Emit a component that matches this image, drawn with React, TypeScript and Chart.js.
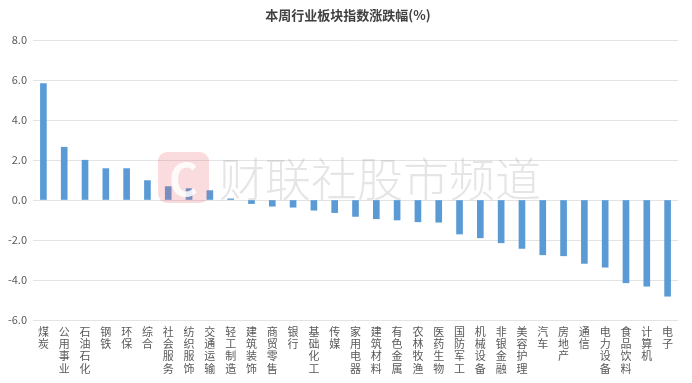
import React, { useEffect, useRef } from "react";
import { Chart, registerables } from "chart.js";

Chart.register(...registerables);

const TITLE = "本周行业板块指数涨跌幅(%)";
const WATERMARK = "财联社股市频道";
const categories = [
  "煤炭", "公用事业", "石油石化", "钢铁", "环保", "综合", "社会服务", "纺织服饰",
  "交通运输", "轻工制造", "建筑装饰", "商贸零售", "银行", "基础化工", "传媒", "家用电器",
  "建筑材料", "有色金属", "农林牧渔", "医药生物", "国防军工", "机械设备", "非银金融", "美容护理",
  "汽车", "房地产", "通信", "电力设备", "食品饮料", "计算机", "电子",
];
const changes = [
  5.82, 2.64, 1.99, 1.57, 1.57, 0.97, 0.67, 0.57,
  0.47, 0.06, -0.18, -0.31, -0.36, -0.51, -0.63, -0.82,
  -0.94, -1.0, -1.09, -1.11, -1.7, -1.89, -2.14, -2.42,
  -2.74, -2.79, -3.17, -3.36, -4.14, -4.31, -4.81,
];
const yMin = -6;
const yMax = 8;
const yStep = 2;

const CJK = '"Noto Sans CJK SC", "Microsoft YaHei", sans-serif';

const overlayPlugin = {
  id: "overlay",
  afterDatasetsDraw(chart: any) {
    const ctx = chart.ctx as CanvasRenderingContext2D;
    ctx.save();
    // watermark logo
    ctx.globalAlpha = 0.22;
    ctx.fillStyle = "#e8606e";
    ctx.beginPath();
    (ctx as any).roundRect(158, 152, 51, 51, 9);
    ctx.fill();
    ctx.globalAlpha = 0.85;
    ctx.fillStyle = "#ffffff";
    ctx.font = `bold 44px ${CJK}`;
    ctx.textAlign = "center";
    ctx.textBaseline = "middle";
    ctx.fillText("C", 183.5, 179);
    // watermark text
    ctx.globalAlpha = 1;
    ctx.fillStyle = "rgba(170,170,170,0.3)";
    ctx.font = `300 46px ${CJK}`;
    ctx.textAlign = "left";
    ctx.fillText(WATERMARK, 219, 179);
    ctx.restore();
  },
  afterDraw(chart: any) {
    const ctx = chart.ctx as CanvasRenderingContext2D;
    ctx.save();
    ctx.fillStyle = "#404040";
    ctx.font = `bold 13px ${CJK}`;
    ctx.textAlign = "center";
    ctx.textBaseline = "middle";
    ctx.fillText(TITLE, 348, 15);
    ctx.restore();
  },
};

export default function App() {
  const ref = useRef<HTMLCanvasElement>(null);
  useEffect(() => {
    document.body.style.margin = "0";
    const chart = new Chart(ref.current!, {
      type: "bar",
      data: {
        labels: categories.map((c) => c.split("")),
        datasets: [
          {
            data: changes,
            backgroundColor: "#5B9BD5",
            borderColor: "#9dc3e6",
            borderWidth: 0,
            barThickness: 6,
          },
        ],
      },
      options: {
        animation: false,
        responsive: false,
        maintainAspectRatio: false,
        layout: { padding: { top: 40, right: 14, left: 0, bottom: 0 } },
        plugins: { legend: { display: false }, tooltip: { enabled: false }, title: { display: false } },
        scales: {
          x: {
            grid: { display: false, drawTicks: false },
            border: { display: false },
            ticks: {
              autoSkip: false,
              maxRotation: 0,
              minRotation: 0,
              padding: 6,
              color: "#595959",
              font: { family: CJK, size: 11, lineHeight: 1.1 },
            },
            afterFit: (s: any) => { s.height = 63; },
          },
          y: {
            min: yMin,
            max: yMax,
            grid: { color: "#e3e3e3", drawTicks: false },
            border: { display: false },
            ticks: {
              stepSize: yStep,
              padding: 6,
              color: "#595959",
              font: { family: CJK, size: 11 },
              callback: (v: any) => Number(v).toFixed(1),
            },
            afterFit: (s: any) => { s.width = 33; },
          },
        },
      },
      plugins: [overlayPlugin],
    });
    return () => chart.destroy();
  }, []);
  return (
    <div style={{ width: 692, height: 383 }}>
      <canvas ref={ref} width={692} height={383} style={{ display: "block" }} />
    </div>
  );
}
